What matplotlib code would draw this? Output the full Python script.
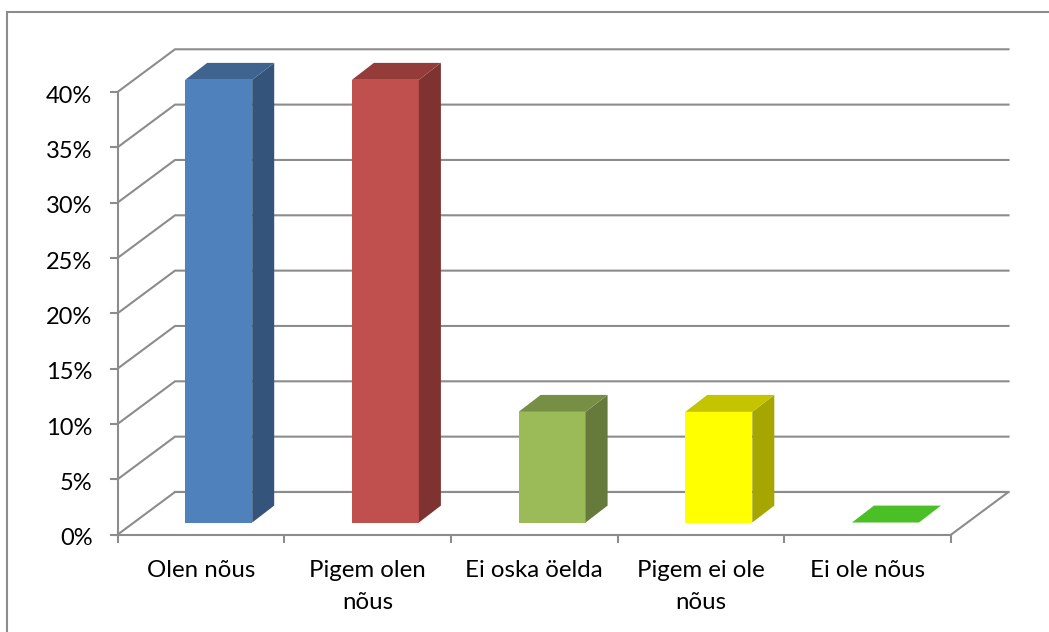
import matplotlib
matplotlib.use("Agg")
import matplotlib.pyplot as plt
from matplotlib.patches import Rectangle
from matplotlib.transforms import ScaledTranslation

# data
categories = ["Olen nõus", "Pigem olen\nnõus", "Ei oska öelda", "Pigem ei ole\nnõus", "Ei ole nõus"]
values = [40, 40, 10, 10, 0]
y_ticks = [0, 5, 10, 15, 20, 25, 30, 35, 40]
y_labels = ["0%", "5%", "10%", "15%", "20%", "25%", "30%", "35%", "40%"]

front_colors = ["#4F81BD", "#C0504D", "#9BBB59", "#FFFF00", "#4BC026"]
top_colors = ["#3F648F", "#943C3A", "#778F45", "#C4C400", "#4BC026"]
side_colors = ["#34547C", "#7E3331", "#667A3B", "#A6A600", "#4BC026"]

W, H = 1049, 632
grid_col = "#8C8C8C"
lw = 1.5

# fake 3d offsets, in axis units
wall_dx, wall_dy = 0.345, 3.86
bar_dx, bar_dy = 0.132, 1.53
bar_w = 0.402
bar_start = 0.406
bar_base = 1.1

plt.rcParams['font.family'] = ['Lato', 'DejaVu Sans']

fig = plt.figure(figsize=(W / 100, H / 100), dpi=100)
ax = fig.add_axes([117.5 / W, (H - 534.7) / H, 833.5 / W, 442.7 / H])
ax.set_xlim(0, 5)
ax.set_ylim(0, 40)
ax.patch.set_visible(False)

# outer frame runs off the right and bottom edge
fig.add_artist(Rectangle((7 / W, -0.1), 1.2, 0.1 + (H - 12) / H, transform=fig.transFigure,
                         facecolor="white", edgecolor=grid_col, linewidth=lw, zorder=-5))

# walls and floor
for v in y_ticks:
    ax.plot([0, wall_dx, 5 + wall_dx], [v, v + wall_dy, v + wall_dy],
            color=grid_col, lw=lw, clip_on=False, zorder=1, solid_joinstyle="miter")
ax.plot([5, 5 + wall_dx, wall_dx], [0, wall_dy, wall_dy], color=grid_col, lw=lw, clip_on=False, zorder=1)

# bars
for i, v in enumerate(values):
    x0 = i + bar_start
    x1 = x0 + bar_w
    y0 = bar_base
    y1 = bar_base + v
    if v > 0:
        ax.bar(x0, v, width=bar_w, bottom=y0, align="edge", color=front_colors[i], clip_on=False, zorder=3)
        ax.fill([x1, x1 + bar_dx, x1 + bar_dx, x1], [y0, y0 + bar_dy, y1 + bar_dy, y1],
                color=side_colors[i], lw=0, clip_on=False, zorder=3)
    ax.fill([x0, x1, x1 + bar_dx, x0 + bar_dx], [y1, y1, y1 + bar_dy, y1 + bar_dy],
            color=top_colors[i], lw=0, clip_on=False, zorder=3)

# axes
for s in ["top", "right"]:
    ax.spines[s].set_visible(False)
for s in ["left", "bottom"]:
    ax.spines[s].set_color(grid_col)
    ax.spines[s].set_linewidth(lw)

ax.set_yticks(y_ticks)
ax.set_yticklabels(y_labels, fontsize=17, color="black")
ax.tick_params(axis="y", length=6, width=lw, color=grid_col, pad=12)
# labels sit a bit under their ticks
nudge = ScaledTranslation(0, -2 / 100, fig.dpi_scale_trans)
for lab in ax.get_yticklabels():
    lab.set_transform(lab.get_transform() + nudge)

ax.set_xticks(range(6))
ax.set_xticklabels([])
ax.tick_params(axis="x", which="major", length=6, width=lw, color=grid_col)
ax.set_xticks([i + 0.5 for i in range(5)], minor=True)
ax.set_xticklabels(categories, minor=True, fontsize=17.3, color="black", linespacing=1.65)
ax.tick_params(axis="x", which="minor", length=0, pad=18)

fig.savefig("out.png", dpi=100)
